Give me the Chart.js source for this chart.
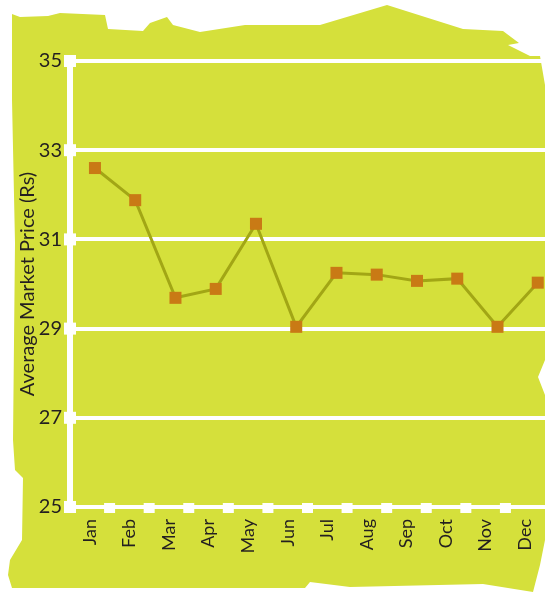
<!DOCTYPE html>
<html>
<head>
<meta charset="utf-8">
<script src="https://cdn.jsdelivr.net/npm/chart.js@4.4.1/dist/chart.umd.min.js"></script>
<style>
  html, body { margin: 0; padding: 0; background: #ffffff; }
  #wrap { width: 545px; height: 592px; position: relative; }
</style>
</head>
<body>
<div id="wrap"><canvas id="price-chart"></canvas></div>
<script>
// Average market price by month (Rs)
const months = ["Jan", "Feb", "Mar", "Apr", "May", "Jun", "Jul", "Aug", "Sep", "Oct", "Nov", "Dec"];
const prices = [32.6, 31.88, 29.69, 29.89, 31.35, 29.04, 30.25, 30.21, 30.07, 30.12, 29.04, 30.03];
const yTicks = [25, 27, 29, 31, 33, 35];

const LIME = "#d5e03b";
const TEXT = "#231f20";

// torn paper outline behind the chart
const paper = [
  [12, 14], [20, 17], [48, 16], [60, 13], [105, 15], [108, 29], [143, 31], [150, 23],
  [167, 17], [173, 25], [200, 32], [245, 25], [320, 25], [387, 5], [463, 29], [503, 31],
  [519, 43], [508, 45], [530, 56], [540, 56], [545, 85], [545, 360], [538, 377], [545, 395],
  [545, 540], [540, 565], [533, 592], [483, 584], [350, 587], [310, 582], [305, 588],
  [20, 588], [12, 588], [8, 575], [10, 560], [22, 540], [23, 478], [15, 470], [13, 440],
  [15, 243], [12, 100]
];

const paperPlugin = {
  id: "paper",
  beforeDraw(chart) {
    const ctx = chart.ctx;
    ctx.save();
    ctx.fillStyle = "#ffffff";
    ctx.fillRect(0, 0, chart.width, chart.height);
    ctx.beginPath();
    paper.forEach((p, i) => (i ? ctx.lineTo(p[0], p[1]) : ctx.moveTo(p[0], p[1])));
    ctx.closePath();
    ctx.fillStyle = LIME;
    ctx.fill();
    ctx.restore();
  }
};

// white square tick markers on both axes
const tickSquares = {
  id: "tickSquares",
  afterDatasetsDraw(chart) {
    const ctx = chart.ctx;
    const y = chart.scales.y;
    const x = chart.scales.x;
    const area = chart.chartArea;
    ctx.save();
    ctx.fillStyle = "#ffffff";
    y.ticks.forEach((t) => {
      const py = y.getPixelForValue(t.value);
      ctx.fillRect(area.left - 6, py - 6, 12, 12);
    });
    const step = x.getPixelForValue(1) - x.getPixelForValue(0);
    for (let i = 1; i < months.length; i++) {
      const px = x.getPixelForValue(i) - step / 2;
      ctx.fillRect(px - 5.5, area.bottom - 4, 11, 10);
    }
    ctx.restore();
  }
};

const ctx = document.getElementById("price-chart").getContext("2d");

new Chart(ctx, {
  type: "line",
  data: {
    labels: months,
    datasets: [
      {
        label: "Average Market Price (Rs)",
        data: prices.map((v, i) => ({ x: i, y: v })),
        xAxisID: "xp",
        borderColor: "#a2a615",
        borderWidth: 3,
        pointStyle: "rect",
        pointRadius: 8.5,
        pointHoverRadius: 8.5,
        pointBorderWidth: 0,
        pointBackgroundColor: "#c97a15",
        tension: 0
      }
    ]
  },
  options: {
    responsive: true,
    maintainAspectRatio: false,
    animation: false,
    layout: { autoPadding: false, padding: { left: 0, top: 61, right: 0, bottom: 0 } },
    plugins: {
      legend: { display: false },
      tooltip: { enabled: false }
    },
    scales: {
      x: {
        type: "category",
        offset: true,
        grid: { display: false, drawTicks: false },
        border: { display: true, color: "#ffffff", width: 4 },
        ticks: {
          color: TEXT,
          font: { family: "Lato", size: 18 },
          minRotation: 90,
          maxRotation: 90,
          padding: 12
        },
        afterFit: (s) => {
          s.height = 85;
          s.paddingLeft = 0;
          s.paddingRight = 0;
        }
      },
      xp: {
        type: "linear",
        display: false,
        min: -0.62,
        max: 11.18
      },
      y: {
        min: 25,
        max: 35,
        afterBuildTicks: (s) => { s.ticks = yTicks.map((v) => ({ value: v })); },
        grid: { color: "#ffffff", lineWidth: 4, drawTicks: false },
        border: { display: true, color: "#ffffff", width: 6 },
        ticks: {
          color: TEXT,
          font: { family: "Lato", size: 20 },
          padding: 8
        },
        title: {
          display: true,
          text: "Average Market Price (Rs)",
          color: TEXT,
          font: { family: "Lato", size: 20 },
          padding: { top: 16, bottom: 0 }
        },
        afterFit: (s) => {
          s.width = 70;
          s.paddingTop = 0;
          s.paddingBottom = 0;
        }
      }
    }
  },
  plugins: [paperPlugin, tickSquares]
});
</script>
</body>
</html>
